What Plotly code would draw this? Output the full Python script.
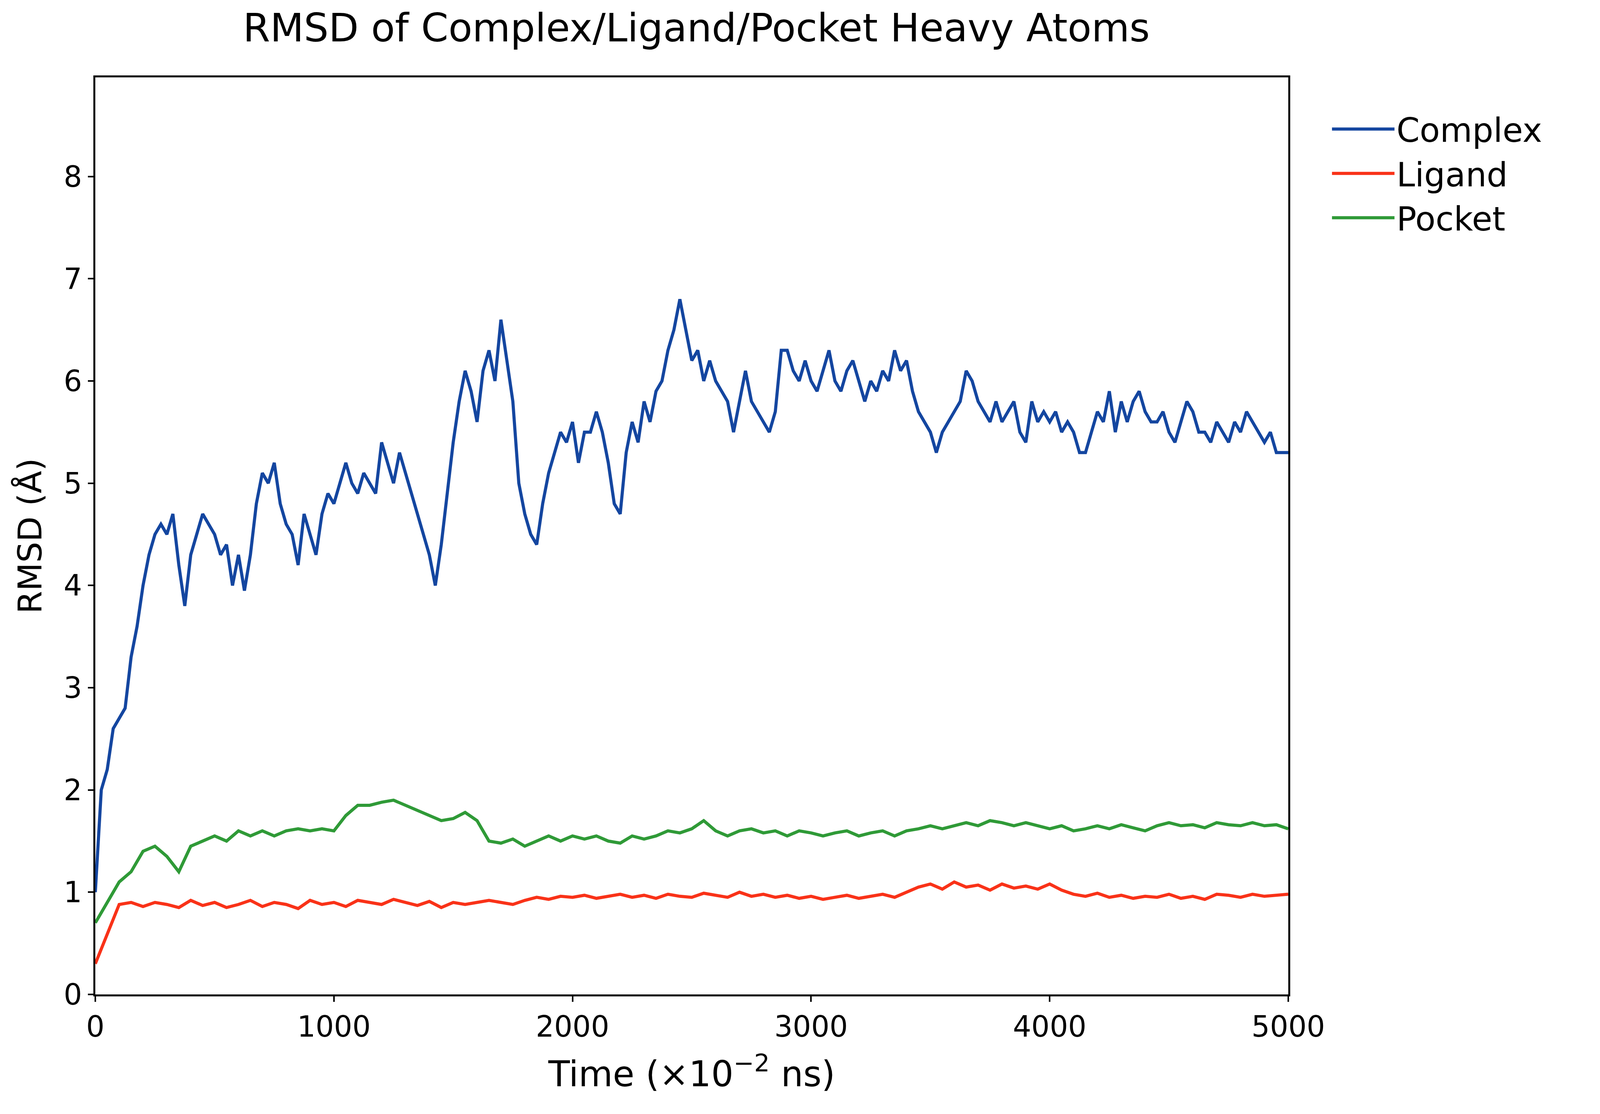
import numpy as np
import plotly.graph_objects as go

# RMSD values (Angstrom)
complex_t = np.arange(0, 5001, 25)
complex_rmsd = [
    1.0, 2.0, 2.2, 2.6, 2.7, 2.8, 3.3, 3.6, 4.0, 4.3, 4.5, 4.6, 4.5, 4.7, 4.2, 3.8,
    4.3, 4.5, 4.7, 4.6, 4.5, 4.3, 4.4, 4.0, 4.3, 3.95, 4.3, 4.8, 5.1, 5.0, 5.2, 4.8,
    4.6, 4.5, 4.2, 4.7, 4.5, 4.3, 4.7, 4.9, 4.8, 5.0, 5.2, 5.0, 4.9, 5.1, 5.0, 4.9,
    5.4, 5.2, 5.0, 5.3, 5.1, 4.9, 4.7, 4.5, 4.3, 4.0, 4.4, 4.9, 5.4, 5.8, 6.1, 5.9,
    5.6, 6.1, 6.3, 6.0, 6.6, 6.2, 5.8, 5.0, 4.7, 4.5, 4.4, 4.8, 5.1, 5.3, 5.5, 5.4,
    5.6, 5.2, 5.5, 5.5, 5.7, 5.5, 5.2, 4.8, 4.7, 5.3, 5.6, 5.4, 5.8, 5.6, 5.9, 6.0,
    6.3, 6.5, 6.8, 6.5, 6.2, 6.3, 6.0, 6.2, 6.0, 5.9, 5.8, 5.5, 5.8, 6.1, 5.8, 5.7,
    5.6, 5.5, 5.7, 6.3, 6.3, 6.1, 6.0, 6.2, 6.0, 5.9, 6.1, 6.3, 6.0, 5.9, 6.1, 6.2,
    6.0, 5.8, 6.0, 5.9, 6.1, 6.0, 6.3, 6.1, 6.2, 5.9, 5.7, 5.6, 5.5, 5.3, 5.5, 5.6,
    5.7, 5.8, 6.1, 6.0, 5.8, 5.7, 5.6, 5.8, 5.6, 5.7, 5.8, 5.5, 5.4, 5.8, 5.6, 5.7,
    5.6, 5.7, 5.5, 5.6, 5.5, 5.3, 5.3, 5.5, 5.7, 5.6, 5.9, 5.5, 5.8, 5.6, 5.8, 5.9,
    5.7, 5.6, 5.6, 5.7, 5.5, 5.4, 5.6, 5.8, 5.7, 5.5, 5.5, 5.4, 5.6, 5.5, 5.4, 5.6,
    5.5, 5.7, 5.6, 5.5, 5.4, 5.5, 5.3, 5.3, 5.3,
]

small_t = np.arange(0, 5001, 50)
pocket_rmsd = [
    0.7, 0.9, 1.1, 1.2, 1.4, 1.45, 1.35, 1.2, 1.45, 1.5, 1.55, 1.5, 1.6, 1.55, 1.6, 1.55,
    1.6, 1.62, 1.6, 1.62, 1.6, 1.75, 1.85, 1.85, 1.88, 1.9, 1.85, 1.8, 1.75, 1.7, 1.72, 1.78,
    1.7, 1.5, 1.48, 1.52, 1.45, 1.5, 1.55, 1.5, 1.55, 1.52, 1.55, 1.5, 1.48, 1.55, 1.52, 1.55,
    1.6, 1.58, 1.62, 1.7, 1.6, 1.55, 1.6, 1.62, 1.58, 1.6, 1.55, 1.6, 1.58, 1.55, 1.58, 1.6,
    1.55, 1.58, 1.6, 1.55, 1.6, 1.62, 1.65, 1.62, 1.65, 1.68, 1.65, 1.7, 1.68, 1.65, 1.68, 1.65,
    1.62, 1.65, 1.6, 1.62, 1.65, 1.62, 1.66, 1.63, 1.6, 1.65, 1.68, 1.65, 1.66, 1.63, 1.68, 1.66,
    1.65, 1.68, 1.65, 1.66, 1.62,
]
ligand_rmsd = [
    0.3, 0.6, 0.88, 0.9, 0.86, 0.9, 0.88, 0.85, 0.92, 0.87, 0.9, 0.85, 0.88, 0.92, 0.86, 0.9,
    0.88, 0.84, 0.92, 0.88, 0.9, 0.86, 0.92, 0.9, 0.88, 0.93, 0.9, 0.87, 0.91, 0.85, 0.9, 0.88,
    0.9, 0.92, 0.9, 0.88, 0.92, 0.95, 0.93, 0.96, 0.95, 0.97, 0.94, 0.96, 0.98, 0.95, 0.97, 0.94,
    0.98, 0.96, 0.95, 0.99, 0.97, 0.95, 1.0, 0.96, 0.98, 0.95, 0.97, 0.94, 0.96, 0.93, 0.95, 0.97,
    0.94, 0.96, 0.98, 0.95, 1.0, 1.05, 1.08, 1.03, 1.1, 1.05, 1.07, 1.02, 1.08, 1.04, 1.06, 1.03,
    1.08, 1.02, 0.98, 0.96, 0.99, 0.95, 0.97, 0.94, 0.96, 0.95, 0.98, 0.94, 0.96, 0.93, 0.98, 0.97,
    0.95, 0.98, 0.96, 0.97, 0.98,
]

fig = go.Figure()
fig.add_trace(go.Scatter(x=complex_t, y=complex_rmsd, mode="lines", name="Complex",
                         line=dict(color="#1446a0", width=8)))
fig.add_trace(go.Scatter(x=small_t, y=ligand_rmsd, mode="lines", name="Ligand",
                         line=dict(color="#f93218", width=8)))
fig.add_trace(go.Scatter(x=small_t, y=pocket_rmsd, mode="lines", name="Pocket",
                         line=dict(color="#2f9a37", width=8)))

axis_common = dict(showline=True, linecolor="black", linewidth=5, mirror=True,
                   ticks="outside", ticklen=14, tickwidth=4, tickcolor="black",
                   showgrid=False, zeroline=False,
                   tickfont=dict(size=74, color="black"))

# figure fills the browser window (autosize)
fig.update_layout(
    paper_bgcolor="white", plot_bgcolor="white",
    font=dict(family="DejaVu Sans", color="black"),
    margin=dict(l=236, r=790, t=190, b=298),
    showlegend=True,
    title=dict(text="RMSD of Complex/Ligand/Pocket Heavy Atoms", x=0.435, xanchor="center",
               y=0.99, yanchor="top", font=dict(size=100)),
    xaxis=dict(range=[0, 5000], tickvals=[0, 1000, 2000, 3000, 4000, 5000],
               title=dict(text="Time (×10<sup>−2</sup> ns)", font=dict(size=90), standoff=50),
               **axis_common),
    yaxis=dict(range=[0, 8.97], tickvals=list(range(9)),
               title=dict(text="RMSD (Å)", font=dict(size=84), standoff=30),
               **axis_common),
    legend=dict(x=1.035, y=0.97, xanchor="left", yanchor="top",
                font=dict(size=85), itemwidth=160,
                bgcolor="rgba(0,0,0,0)"),
)

fig.write_html("out.html")
